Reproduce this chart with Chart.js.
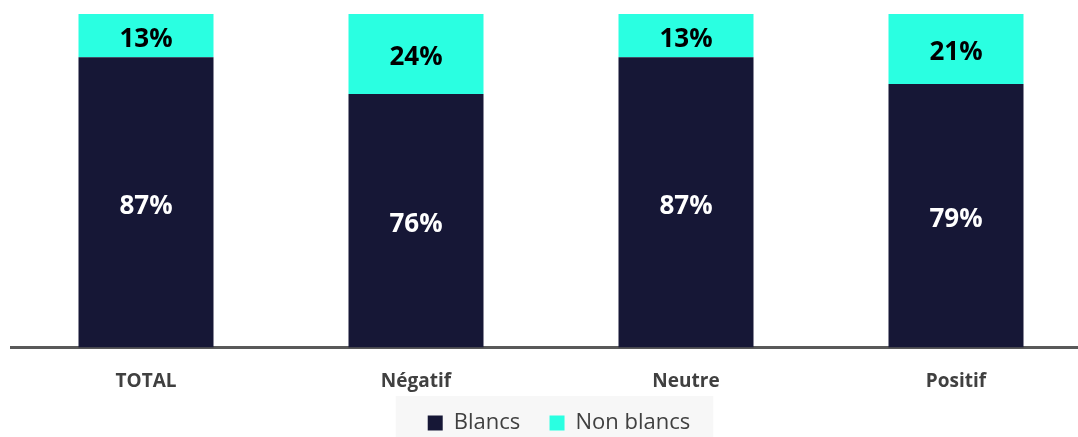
<!DOCTYPE html>
<html>
<head>
<meta charset="utf-8">
<script src="https://cdn.jsdelivr.net/npm/chart.js@4/dist/chart.umd.min.js"></script>
<style>
html,body{margin:0;padding:0;background:#fff;overflow:hidden;width:1078px;height:437px;}
#wrap{position:absolute;left:0;top:0;width:1091px;height:437px;}
</style>
</head>
<body>
<div id="wrap"><canvas id="c" width="1091" height="437"></canvas></div>
<script>
const categories = ['TOTAL', 'Négatif', 'Neutre', 'Positif'];
const blancs = [87, 76, 87, 79];
const nonBlancs = [13, 24, 13, 21];
const seriesNames = ['Blancs', 'Non blancs'];

const FONT = '"Open Sans", Lato, sans-serif';
const LEGEND_PAD = 0;

const legendShift = {
  id: 'legendShift',
  afterLayout(chart) {
    const l = chart.legend;
    if (!l) return;
    l.left += 8;
    l.right += 8;
    l.top += 7;
    l.bottom += 7;
  }
};

const legendBg = {
  id: 'legendBg',
  beforeDraw(chart) {
    const l = chart.legend;
    if (!l || !l.lineWidths) return;
    const ctx = chart.ctx;
    const w = l.lineWidths[0];
    const startX = ((l.left + LEGEND_PAD) + (l.right - w)) / 2;
    ctx.save();
    ctx.fillStyle = '#f7f7f7';
    ctx.fillRect(startX - 32, l.top - 16, w + 55, chart.height - l.top + 16);
    ctx.restore();
  }
};

const valueLabels = {
  id: 'valueLabels',
  afterDatasetsDraw(chart) {
    const ctx = chart.ctx;
    ctx.save();
    ctx.font = 'bold 26px ' + FONT;
    ctx.textAlign = 'center';
    ctx.textBaseline = 'middle';
    chart.data.datasets.forEach((ds, di) => {
      const meta = chart.getDatasetMeta(di);
      meta.data.forEach((bar, i) => {
        const p = bar.getProps(['x', 'y', 'base'], true);
        ctx.fillStyle = di === 0 ? '#ffffff' : '#000000';
        ctx.fillText(ds.data[i] + '%', p.x, (p.y + p.base) / 2 + 4);
      });
    });
    ctx.restore();
  }
};

new Chart(document.getElementById('c'), {
  type: 'bar',
  data: {
    labels: categories,
    datasets: [
      { label: seriesNames[0], data: blancs, backgroundColor: '#161736', categoryPercentage: 1, barPercentage: 0.5 },
      { label: seriesNames[1], data: nonBlancs, backgroundColor: '#2affe1', categoryPercentage: 1, barPercentage: 0.5 }
    ]
  },
  options: {
    responsive: false,
    animation: false,
    layout: { padding: { left: 11, top: 14, right: 0, bottom: 0 } },
    scales: {
      x: {
        stacked: true,
        grid: { display: false, drawTicks: false },
        border: { display: true, color: '#595959', width: 3 },
        ticks: { color: '#404040', font: { family: FONT, size: 19, weight: 'bold' }, padding: 23 },
        afterFit(scale) { scale.height = 57.6; }
      },
      y: {
        stacked: true,
        display: false,
        min: 0,
        max: 100
      }
    },
    plugins: {
      tooltip: { enabled: false },
      legend: {
        position: 'bottom',
        labels: {
          color: '#404040',
          font: { family: FONT, size: 22 },
          boxWidth: 15,
          boxHeight: 15,
          padding: LEGEND_PAD,
          generateLabels(chart) {
            const items = Chart.defaults.plugins.legend.labels.generateLabels(chart);
            items.forEach((it, i) => { if (i < items.length - 1) it.text = it.text + '\u2002\u2002\u2009\u2009'; });
            return items;
          }
        }
      }
    }
  },
  plugins: [legendShift, legendBg, valueLabels]
});
</script>
</body>
</html>
